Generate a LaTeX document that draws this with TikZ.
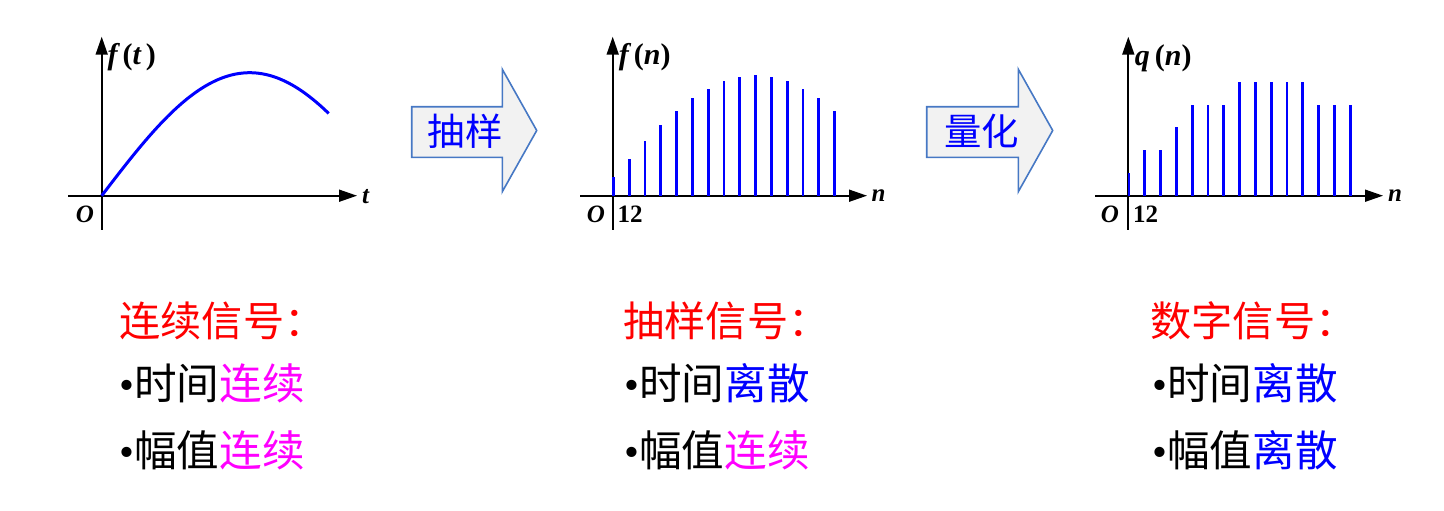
\documentclass[tikz,border=0pt]{standalone}
\usepackage{fontspec}
\setmainfont{Liberation Serif}
\newfontfamily\cjk{Noto Sans CJK SC}
\usepackage{xcolor}
\usetikzlibrary{arrows.meta,positioning}
\definecolor{sigblue}{RGB}{0,0,255}
\definecolor{sigred}{RGB}{255,0,0}
\definecolor{sigmag}{RGB}{255,0,255}
\definecolor{boxedge}{RGB}{70,120,196}
\definecolor{boxfill}{RGB}{242,242,242}

\begin{document}
\begin{tikzpicture}[x=0.5pt,y=0.5pt,
  axis/.style={line width=0.85pt,-{Triangle[length=9pt,width=6pt]}},
  curve/.style={line width=1.5pt,sigblue},
  stem/.style={line width=1.35pt,sigblue},
  blockarr/.style={draw=boxedge,fill=boxfill,line width=0.8pt,line join=miter},
  arrtext/.style={font=\cjk\fontsize{18.7}{20}\selectfont,text=sigblue,inner sep=0pt},
  axlab/.style={font=\fontsize{12.5}{14}\selectfont\bfseries\itshape,inner sep=0pt,anchor=base},
  numlab/.style={font=\fontsize{12.5}{14}\selectfont\bfseries,inner sep=0pt,anchor=base},
  fnlab/.style={font=\fontsize{15}{17}\selectfont\bfseries\itshape,inner sep=0pt,anchor=base},
  sigtitle/.style={font=\cjk\fontsize{20.6}{24}\selectfont,text=sigred,anchor=base west,inner sep=0pt},
  sigitem/.style={font=\cjk\fontsize{21.3}{24}\selectfont,anchor=base west,inner sep=0pt}
]
\useasboundingbox (0,0) rectangle (1444,510);

%--- Left panel: continuous signal ---
\begin{scope}[shift={(101.7,314.3)}]
  \coordinate (xa1) at (-33.7,0);
  \coordinate (xb1) at (255.3,0);
  \coordinate (ya1) at (0,-34);
  \coordinate (yb1) at (0,159);
  \draw[axis] (xa1) -- (xb1);
  \draw[axis] (ya1) -- (yb1);
  \node[axlab] (t1) at (264,-8) {t};
  \node[axlab] (o1) at (-16.7,-27) {O};
  \node[fnlab] (f1) at (30,131) {f\,\textup{(}t\,\textup{)}};
  % sine arc
  \draw[curve] plot[domain=0:227,samples=80] (\x,{123*sin(\x/148*90)});
\end{scope}

%--- Arrow: sampling ---
\draw[blockarr] (411.7,403.3) -- (502.3,403.3) -- (502.3,440.7) -- (536.7,379.5)
  -- (502.3,318.3) -- (502.3,352.7) -- (411.7,352.7) -- cycle;
\node[arrtext] (samp) at (465,378.3) {抽样};

%--- Middle panel: sampled signal ---
\begin{scope}[shift={(612.7,314.3)}]
  \coordinate (xa2) at (-32.7,0);
  \coordinate (xb2) at (254.3,0);
  \coordinate (ya2) at (0,-34);
  \coordinate (yb2) at (0,159);
  \draw[axis] (xa2) -- (xb2);
  \draw[axis] (ya2) -- (yb2);
  \node[axlab] (n2) at (265.8,-6) {n};
  \node[axlab] (o2) at (-16.7,-27) {O};
  \node[numlab] (k2) at (17.3,-27) {12};
  \node[fnlab] (f2) at (32,131) {f\,\textup{(}n\textup{)}};
  \foreach \k in {0,...,14}
    \draw[stem] (0.7+15.8*\k,0) -- ++(0,{120.3*sin(9+9*\k)});
\end{scope}

%--- Arrow: quantization ---
\draw[blockarr] (926.7,403.3) -- (1018.3,403.3) -- (1018.3,440.7) -- (1052.7,379.5)
  -- (1018.3,318.3) -- (1018.3,352.7) -- (926.7,352.7) -- cycle;
\node[arrtext] (quant) at (981.7,378.3) {量化};

%--- Right panel: digital signal ---
\begin{scope}[shift={(1128.3,314.3)}]
  \coordinate (xa3) at (-33.3,0);
  \coordinate (xb3) at (254.7,0);
  \coordinate (ya3) at (0,-34);
  \coordinate (yb3) at (0,159);
  \draw[axis] (xa3) -- (xb3);
  \draw[axis] (ya3) -- (yb3);
  \node[axlab] (n3) at (266.7,-6) {n};
  \node[axlab] (o3) at (-18.3,-27) {O};
  \node[numlab] (k3) at (17.2,-27) {12};
  \node[fnlab] (q3) at (35,130) {q\,\textup{(}n\textup{)}};
  \foreach \k/\lv in {0/1,1/2,2/2,3/3,4/4,5/4,6/4,7/5,8/5,9/5,10/5,11/5,12/4,13/4,14/4}
    \draw[stem] (0.7+15.8*\k,0) -- ++(0,22.8*\lv);
\end{scope}

%--- Bottom: properties ---
\node[sigtitle] (c0) at (119,174) {连续信号：};
\node[sigitem] (c1) at (119,111) {{\rmfamily •}时间\textcolor{sigmag}{连续}};
\node[sigitem] (c2) at (119,44) {{\rmfamily •}幅值\textcolor{sigmag}{连续}};

\node[sigtitle] (s0) at (623,174) {抽样信号：};
\node[sigitem] (s1) at (624,111) {{\rmfamily •}时间\textcolor{sigblue}{离散}};
\node[sigitem] (s2) at (624,44) {{\rmfamily •}幅值\textcolor{sigmag}{连续}};

\node[sigtitle] (d0) at (1150,174) {数字信号：};
\node[sigitem] (d1) at (1152,111) {{\rmfamily •}时间\textcolor{sigblue}{离散}};
\node[sigitem] (d2) at (1152,44) {{\rmfamily •}幅值\textcolor{sigblue}{离散}};
\end{tikzpicture}
\end{document}
